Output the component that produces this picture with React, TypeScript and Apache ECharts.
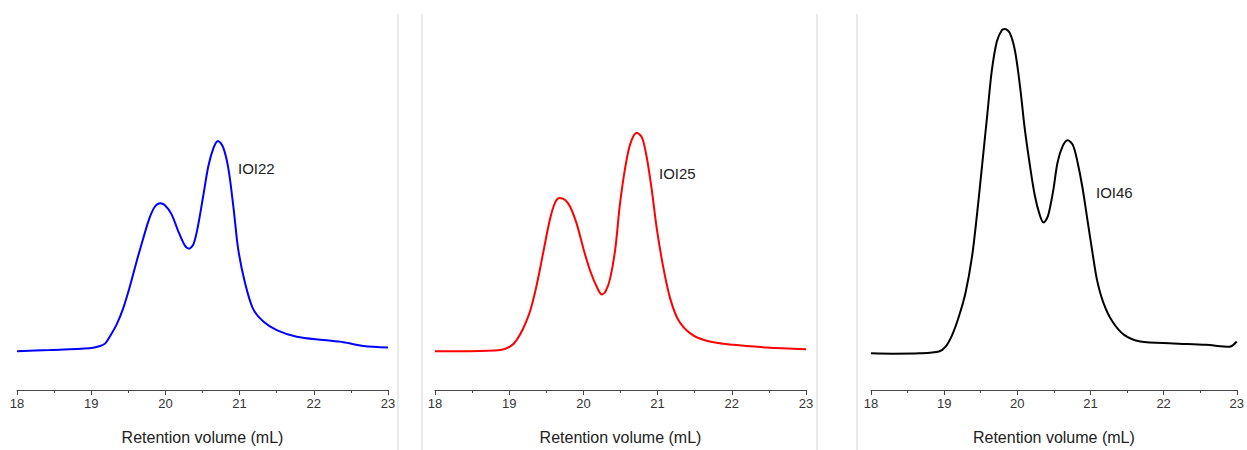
import React, { useEffect, useRef } from "react";
import * as echarts from "echarts";

// Retention volume (mL) and detector response (relative units) for each sample
const ioi22X = [18.0, 18.44, 18.98, 19.12, 19.19, 19.25, 19.34, 19.43, 19.52, 19.61, 19.7, 19.79, 19.86, 19.93, 19.99, 20.08, 20.17, 20.26, 20.32, 20.38, 20.44, 20.51, 20.58, 20.65, 20.71, 20.78, 20.85, 20.92, 20.98, 21.07, 21.18, 21.32, 21.5, 21.77, 22.13, 22.4, 22.67, 23.0];
const ioi22Y = [10.5, 10.8, 11.3, 11.9, 12.6, 14.4, 17.6, 22.0, 27.9, 34.6, 40.9, 46.7, 49.6, 50.5, 50.0, 47.6, 43.1, 39.1, 38.2, 39.5, 44.4, 52.5, 60.6, 65.5, 67.3, 65.5, 59.7, 48.9, 38.2, 29.2, 22.0, 18.5, 16.2, 14.4, 13.5, 12.9, 11.9, 11.5];

const ioi25X = [18.0, 18.47, 18.88, 19.01, 19.1, 19.19, 19.28, 19.37, 19.46, 19.55, 19.62, 19.68, 19.75, 19.82, 19.91, 20.0, 20.09, 20.18, 20.25, 20.3, 20.36, 20.43, 20.49, 20.56, 20.63, 20.72, 20.79, 20.85, 20.92, 20.99, 21.08, 21.17, 21.28, 21.44, 21.66, 22.02, 22.47, 23.0];
const ioi25Y = [10.5, 10.5, 10.8, 11.7, 13.5, 16.7, 21.2, 28.3, 37.3, 46.2, 50.7, 51.9, 51.4, 49.6, 44.9, 38.2, 32.3, 27.9, 25.8, 26.7, 30.1, 38.2, 49.8, 59.7, 66.4, 69.5, 68.2, 63.3, 54.3, 43.5, 32.8, 24.7, 18.9, 15.3, 13.3, 12.2, 11.5, 11.0];

const ioi46X = [18.0, 18.3, 18.66, 18.93, 19.02, 19.11, 19.2, 19.29, 19.38, 19.45, 19.52, 19.59, 19.65, 19.72, 19.79, 19.83, 19.9, 19.97, 20.04, 20.1, 20.17, 20.24, 20.31, 20.36, 20.42, 20.49, 20.55, 20.62, 20.69, 20.76, 20.82, 20.89, 20.96, 21.03, 21.09, 21.18, 21.3, 21.46, 21.68, 22.13, 22.58, 22.9, 23.0];
const ioi46Y = [9.9, 9.8, 9.9, 10.4, 11.7, 14.9, 19.8, 26.1, 35.9, 47.6, 61.0, 74.5, 86.1, 94.2, 97.3, 97.6, 96.4, 91.5, 81.6, 70.9, 61.0, 52.5, 47.1, 45.3, 47.1, 53.8, 61.5, 65.9, 67.5, 66.2, 61.9, 54.8, 45.8, 36.8, 29.7, 23.4, 18.5, 14.9, 13.1, 12.6, 12.2, 11.7, 13.1];

const sampleNames = ["IOI22", "IOI25", "IOI46"];
const sampleColors = ["#0000ff", "#ff0000", "#000000"];
const xTicks = { min: 18, max: 23, interval: 1 };
const axisTitle = "Retention volume (mL)";

const pair = (xs: number[], ys: number[]) => xs.map((x, i) => [x, ys[i]]);

export default function App() {
  const ref = useRef<HTMLDivElement>(null);

  useEffect(() => {
    if (!ref.current) return;
    const chart = echarts.init(ref.current, null, { renderer: "svg" });
    const lefts = [17, 435, 871];
    const width = 371;
    const seriesData = [pair(ioi22X, ioi22Y), pair(ioi25X, ioi25Y), pair(ioi46X, ioi46Y)];
    const labelPos = [
      [238, 168],
      [659, 173],
      [1096, 192],
    ];
    const separators = [398, 422, 817, 857];
    const font = "Liberation Sans, Arial, sans-serif";

    chart.setOption({
      animation: false,
      grid: lefts.map((l) => ({ left: l, width, top: 20, bottom: 58 })),
      xAxis: lefts.map((_, i) => ({
        type: "value",
        gridIndex: i,
        min: xTicks.min,
        max: xTicks.max,
        interval: xTicks.interval,
        name: axisTitle,
        nameLocation: "middle",
        nameGap: 39,
        nameTextStyle: { fontFamily: font, fontSize: 16, color: "#222" },
        axisLine: { show: true, lineStyle: { color: "#444", width: 1 } },
        axisTick: { show: true, inside: false, length: 5, lineStyle: { color: "#444" } },
        minorTick: { show: true, splitNumber: 2, length: 3, lineStyle: { color: "#444" } },
        axisLabel: {
          fontFamily: font,
          fontSize: 13,
          color: "#333",
          margin: 7,
          hideOverlap: false,
        },
        splitLine: { show: false },
      })),
      yAxis: lefts.map((_, i) => ({
        type: "value",
        gridIndex: i,
        min: 0,
        max: 100,
        show: false,
        splitLine: { show: false },
      })),
      series: seriesData.map((d, i) => ({
        type: "line",
        name: sampleNames[i],
        xAxisIndex: i,
        yAxisIndex: i,
        data: d,
        smooth: 0.3,
        showSymbol: false,
        lineStyle: { color: sampleColors[i], width: 2 },
      })),
      graphic: [
        ...separators.map((x) => ({
          type: "line",
          shape: { x1: x, y1: 14, x2: x, y2: 450 },
          style: { stroke: "#d4d4d4", lineWidth: 1 },
          silent: true,
        })),
        ...sampleNames.map((n, i) => ({
          type: "text",
          x: labelPos[i][0],
          y: labelPos[i][1],
          style: {
            text: n,
            fontFamily: font,
            fontSize: 15,
            fill: "#222",
            verticalAlign: "middle",
          },
        })),
      ],
    });
    return () => chart.dispose();
  }, []);

  return (
    <div
      ref={ref}
      style={{ position: "fixed", left: 0, top: 0, width: 1247, height: 450, background: "#fff" }}
    />
  );
}
